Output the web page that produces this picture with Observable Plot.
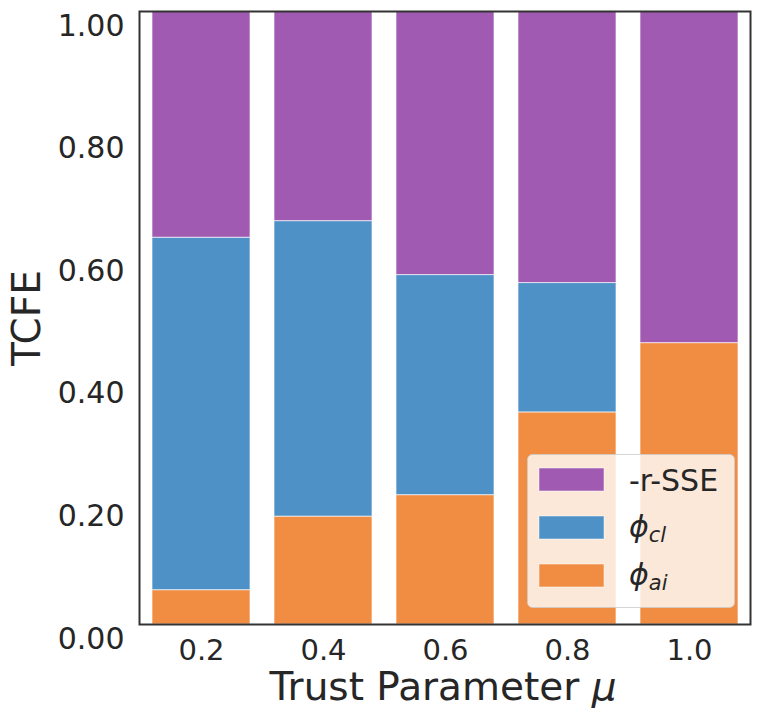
<!DOCTYPE html>
<html>
<head>
<meta charset="utf-8">
<script src="https://cdn.jsdelivr.net/npm/d3@7"></script>
<script src="https://cdn.jsdelivr.net/npm/@observablehq/plot@0.6"></script>
<style>
  html, body { margin: 0; padding: 0; background: white; }
  #wrap { position: relative; width: 762px; height: 724px; }
  #legend { position: absolute; left: 527px; top: 454px; }
</style>
</head>
<body>
<div id="wrap"></div>
<script>
// ---- data ----
const mus = ["0.2", "0.4", "0.6", "0.8", "1.0"];
const phiAI = [0.056, 0.176, 0.211, 0.346, 0.459];
const phiCL = [0.575, 0.482, 0.359, 0.211, 0.0];
const rSSE  = [0.369, 0.342, 0.430, 0.443, 0.541];
const seriesKeys = ["phi_ai", "phi_cl", "-r-SSE"];          // stacking order (bottom -> top)
const seriesColors = ["#f18c43", "#4d91c6", "#a05ab2"];
const legendKeys = ["-r-SSE", "phi_cl", "phi_ai"];          // legend order (top -> bottom)
const legendBase = ["-r-SSE", "ϕ", "ϕ"];
const legendSub  = ["", "cl", "ai"];
const yTicks = [0, 0.2, 0.4, 0.6, 0.8, 1.0];

const seriesValues = { "phi_ai": phiAI, "phi_cl": phiCL, "-r-SSE": rSSE };
const rows = [];
seriesKeys.forEach(k => mus.forEach((m, i) => rows.push({ mu: m, series: k, value: seriesValues[k][i] })));

const font = "DejaVu Sans";
const ink = "#262626";

const chart = Plot.plot({
  width: 762,
  height: 724,
  marginLeft: 139,
  marginRight: 12,
  marginTop: 11,
  marginBottom: 100,
  style: { fontFamily: font, color: ink, background: "white", overflow: "visible" },
  x: { domain: mus, paddingInner: 0.2, paddingOuter: 0.1, label: null },
  y: { domain: [0, 1], label: null },
  color: { domain: seriesKeys, range: seriesColors },
  marks: [
    Plot.barY(rows, {
      x: "mu", y: "value", fill: "series", order: seriesKeys,
      stroke: "white", strokeOpacity: 0.65, strokeWidth: 1
    }),
    Plot.frame({ stroke: "#333333", strokeWidth: 2 }),
    Plot.axisY(yTicks, {
      tickSize: 0, tickPadding: 15, fontSize: 30, fill: ink,
      tickFormat: d => d.toFixed(2), dy: 14.5, label: null
    }),
    Plot.axisX({
      tickSize: 0, tickPadding: 15, fontSize: 29, fill: ink, label: null
    }),
    Plot.text(["TCFE"], {
      frameAnchor: "left", dx: -111.5, rotate: -90, fontSize: 39,
      textAnchor: "middle", lineAnchor: "middle", fill: ink
    }),
    Plot.text(["Trust Parameter μ"], {
      frameAnchor: "bottom", dy: 63.4, dx: -2, fontSize: 39,
      textAnchor: "middle", lineAnchor: "middle", fill: ink, className: "xlabel"
    })
  ]
});

const wrap = document.getElementById("wrap");
wrap.appendChild(chart);

// italicize μ in the x-axis label (mathtext style)
d3.select(chart).selectAll("text").each(function () {
  const t = d3.select(this);
  if (t.text() === "Trust Parameter μ") {
    t.text(null);
    t.append("tspan").text("Trust Parameter ");
    t.append("tspan").attr("font-style", "italic").text("μ");
  }
});

// ---- legend (inside the plot, lower right) ----
const lw = 207, lh = 153;
const legend = d3.select(wrap).append("svg")
  .attr("id", "legend")
  .attr("width", lw + 2).attr("height", lh + 2)
  .style("font-family", font);
legend.append("rect")
  .attr("x", 0.5).attr("y", 0.5).attr("width", lw).attr("height", lh)
  .attr("rx", 5).attr("ry", 5)
  .attr("fill", "white").attr("fill-opacity", 0.8)
  .attr("stroke", "#cccccc").attr("stroke-opacity", 0.8).attr("stroke-width", 1);
legendKeys.forEach((k, i) => {
  const col = seriesColors[seriesKeys.indexOf(k)];
  const top = 14 + i * 48;
  legend.append("rect")
    .attr("x", 12).attr("y", top).attr("width", 65).attr("height", 23)
    .attr("fill", col).attr("stroke", "white").attr("stroke-opacity", 0.5).attr("stroke-width", 1);
  const txt = legend.append("text")
    .attr("x", 102).attr("y", top + 23)
    .attr("font-size", 30).attr("fill", ink);
  if (legendSub[i]) {
    txt.attr("y", top + 21);
    txt.append("tspan").attr("font-style", "italic").text(legendBase[i]);
    txt.append("tspan").attr("font-style", "italic").attr("font-size", 21)
      .attr("dy", 5).text(legendSub[i]);
  } else {
    txt.text(legendBase[i]);
  }
});
</script>
</body>
</html>
